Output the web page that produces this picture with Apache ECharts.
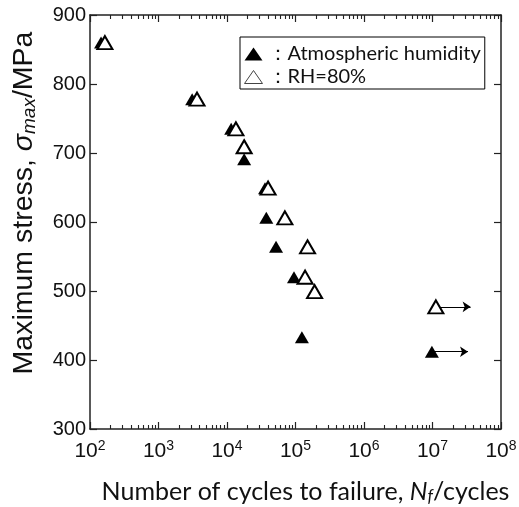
<!DOCTYPE html>
<html>
<head>
<meta charset="utf-8">
<script src="https://cdn.jsdelivr.net/npm/echarts@6/dist/echarts.min.js"></script>
<style>
  html, body { margin: 0; padding: 0; background: #fff; }
  #chart { width: 519px; height: 507px; }
</style>
</head>
<body>
<div id="chart"></div>
<script>
// number of cycles, stress (MPa)
var atmCycles = [145, 3100, 11500, 17800, 35900, 37500, 52000, 95000, 124000, 9.8e6];
var atmStress = [860, 778, 735, 691, 649, 606, 564, 520, 433, 412];
var rhCycles = [165, 3650, 13500, 17800, 39800, 70000, 150000, 138000, 190000, 1.12e7];
var rhStress = [860, 778, 735, 709, 649, 606, 564, 520, 499, 477];

// run-outs (no failure) -> arrow to the right
var runoutStart = [[1.12e7, 477], [9.8e6, 412]];
var runoutEnd = [3.6e7, 3.3e7];

// decade exponents 10^2 .. 10^8
var expMin = 2, expMax = 8;
var minorExps = [];
for (var e = expMin; e < expMax; e++) {
  for (var m = 2; m <= 9; m++) minorExps.push(e + Math.log10(m));
}

var axisCol = '#222';
var numFont = 'Liberation Sans, Arial, sans-serif';
var txtFont = 'Lato, Carlito, sans-serif';

function logAxis(pos, labels) {
  return {
    type: 'log',
    logBase: 10,
    min: Math.pow(10, expMin),
    max: Math.pow(10, expMax),
    position: pos,
    axisLine: { show: true, onZero: false, lineStyle: { color: axisCol, width: 1.5 } },
    axisTick: { show: true, inside: true, length: 7, lineStyle: { color: axisCol, width: 1.2 } },
    axisLabel: {
      show: labels,
      margin: 10,
      formatter: function (v) {
        return '{b|10}{s|' + Math.round(Math.log10(v)) + '}';
      },
      rich: {
        b: { fontSize: 21, fontFamily: numFont, color: '#111' },
        s: { fontSize: 14, fontFamily: numFont, color: '#111', padding: [0, 0, 10, 0] }
      }
    },
    splitLine: { show: false }
  };
}

// decorative axis in exponent space, only for the 2..9 minor ticks
function minorAxis(pos) {
  return {
    type: 'value',
    min: expMin, max: expMax,
    position: pos,
    axisLine: { show: false, onZero: false },
    axisTick: { show: true, inside: true, length: 4, customValues: minorExps, lineStyle: { color: axisCol, width: 1.1 } },
    axisLabel: { show: false },
    splitLine: { show: false }
  };
}

var chart = echarts.init(document.getElementById('chart'));

var xAxes = [logAxis('bottom', true), minorAxis('bottom'), logAxis('top', false), minorAxis('top')];
xAxes[0].name = '{t|Number of cycles to failure, }{i|N}{sub|f}{t|/cycles}';
xAxes[0].nameLocation = 'middle';
xAxes[0].nameGap = 50;
xAxes[0].nameTextStyle = {
  rich: {
    t: { fontSize: 25, fontFamily: txtFont, color: '#111' },
    i: { fontSize: 25, fontFamily: txtFont, fontStyle: 'italic', color: '#111' },
    sub: { fontSize: 17, fontFamily: txtFont, fontStyle: 'italic', color: '#111', padding: [9, 0, 0, 0] }
  },
  padding: [0, 0, 0, 20]
};

function valAxis(pos, labels) {
  return {
    type: 'value',
    min: 300, max: 900, interval: 100,
    position: pos,
    axisLine: { show: true, onZero: false, lineStyle: { color: axisCol, width: 1.5 } },
    axisTick: { show: true, inside: true, length: 7, lineStyle: { color: axisCol, width: 1.2 } },
    axisLabel: { show: labels, fontSize: 20, fontFamily: numFont, color: '#111', margin: 4 },
    splitLine: { show: false }
  };
}
var yAxes = [valAxis('left', true), valAxis('right', false)];
yAxes[0].name = '{t|Maximum stress, }{i|σ}{sub|max}{t|/MPa}';
yAxes[0].nameLocation = 'middle';
yAxes[0].nameGap = 51;
yAxes[0].nameTextStyle = {
  rich: {
    t: { fontSize: 28.5, fontFamily: numFont, color: '#111' },
    i: { fontSize: 28.5, fontFamily: numFont, fontStyle: 'italic', color: '#111' },
    sub: { fontSize: 19, fontFamily: numFont, fontStyle: 'italic', color: '#111', padding: [11, 0, 0, 0] }
  },
  padding: [0, 0, 0, 38]
};

var option = {
  animation: false,
  backgroundColor: '#fff',
  grid: { left: 90, right: 18, top: 15, bottom: 78, outerBoundsMode: 'none' },
  xAxis: xAxes,
  yAxis: yAxes,
  legend: {
    orient: 'vertical',
    left: 240, top: 37,
    itemWidth: 18, itemHeight: 13,
    itemGap: 3,
    padding: [7, 4, 2, 4],
    borderColor: '#000', borderWidth: 1,
    textStyle: { fontSize: 20, fontFamily: txtFont, color: '#111' },
    formatter: function (n) { return '：' + n; },
    data: [
      { name: 'Atmospheric humidity', icon: 'triangle', itemStyle: { color: '#000', borderWidth: 0 } },
      { name: 'RH=80%', icon: 'triangle', itemStyle: { color: '#fff', borderColor: '#444', borderWidth: 1 } }
    ]
  },
  series: [
    {
      type: 'lines',
      coordinateSystem: 'cartesian2d',
      silent: true,
      symbol: ['none', 'arrow'],
      symbolSize: [0, 8],
      lineStyle: { color: '#000', width: 1.2, opacity: 1 },
      data: runoutStart.map(function (p, i) {
        return { coords: [p, [runoutEnd[i], p[1]]] };
      }),
      z: 1
    },
    {
      name: 'Atmospheric humidity',
      type: 'scatter',
      symbol: 'triangle',
      symbolSize: [14, 12],
      itemStyle: { color: '#000', opacity: 1 },
      data: atmCycles.map(function (c, i) { return [c, atmStress[i]]; }),
      z: 3
    },
    {
      name: 'RH=80%',
      type: 'scatter',
      symbol: 'triangle',
      symbolSize: [15, 13],
      itemStyle: { color: '#fff', borderColor: '#000', borderWidth: 2, opacity: 1 },
      data: rhCycles.map(function (c, i) { return [c, rhStress[i]]; }),
      z: 4
    }
  ]
};

chart.setOption(option);
</script>
</body>
</html>
